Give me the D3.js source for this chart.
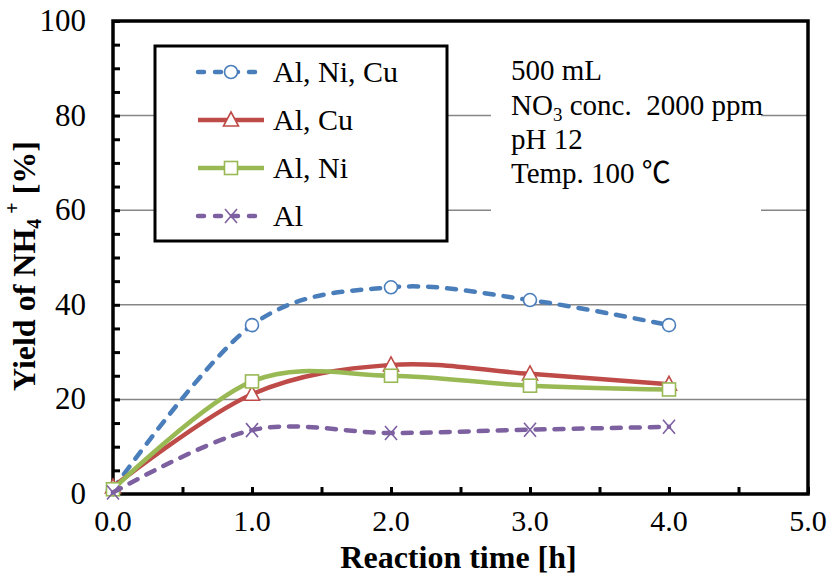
<!DOCTYPE html>
<html>
<head>
<meta charset="utf-8">
<script src="https://cdn.jsdelivr.net/npm/d3@7"></script>
<style>
  html, body { margin: 0; padding: 0; background: #fff; }
  svg { display: block; }
  svg text { font-family: "Liberation Serif", "Times New Roman", "Noto Sans CJK JP", serif; white-space: pre; }
</style>
</head>
<body>
<svg id="chart" width="827" height="574"></svg>
<script>
// Reaction time [h] for every sample
const times = [0, 1, 2, 3, 4];

// NH4+ yield [%] per catalyst combination
const alNiCu = [1.0, 35.7, 43.7, 41.0, 35.7];
const alCu   = [1.5, 21.1, 27.3, 25.4, 23.2];
const alNi   = [1.0, 23.8, 25.0, 22.9, 22.1];
const alOnly = [0.3, 13.5, 12.9, 13.6, 14.2];

const seriesNames = ["Al, Ni, Cu", "Al, Cu", "Al, Ni", "Al"];

const xTicks = [0, 1, 2, 3, 4, 5];
const yTicks = [0, 20, 40, 60, 80, 100];

const conditions = ["500 mL", "NO3 conc.  2000 ppm", "pH 12", "Temp. 100 ℃"];

const series = [
  { name: seriesNames[0], values: alNiCu, color: "#4A7EBB", dash: "9,10", marker: "circle" },
  { name: seriesNames[1], values: alCu,   color: "#BE4B48", dash: null,   marker: "triangle" },
  { name: seriesNames[2], values: alNi,   color: "#98B954", dash: null,   marker: "square" },
  { name: seriesNames[3], values: alOnly, color: "#7D60A0", dash: "9,10", marker: "cross" }
];

const svg = d3.select("#chart");
const plotLeft = 113, plotRight = 808, plotTop = 21, plotBottom = 494;

const x = d3.scaleLinear().domain([0, 5]).range([plotLeft, plotRight]);
const y = d3.scaleLinear().domain([0, 100]).range([plotBottom, plotTop]);

// horizontal gridlines
svg.append("g").selectAll("line")
  .data(yTicks.filter(d => d > 0 && d < 100))
  .join("line")
  .attr("x1", plotLeft).attr("x2", plotRight)
  .attr("y1", d => y(d)).attr("y2", d => y(d))
  .attr("stroke", "#868686").attr("stroke-width", 1.5);

// y axis: labels at every 20, ticks every 5 pointing into the plot
const yAxis = d3.axisRight(y).tickValues(d3.range(0, 101, 5)).tickSize(7).tickFormat("");
svg.append("g").attr("transform", `translate(${plotLeft},0)`).call(yAxis)
  .call(g => g.select(".domain").remove())
  .call(g => g.selectAll("line").attr("stroke", "#000").attr("stroke-width", 3));
svg.append("g").selectAll("text").data(yTicks).join("text")
  .attr("x", 86).attr("y", d => y(d) + 10)
  .attr("text-anchor", "end")
  .attr("font-size", 31)
  .text(d => d);

// x axis: ticks every 0.5 pointing up
const xAxis = d3.axisTop(x).tickValues(d3.range(0, 5.01, 0.5)).tickSize(7).tickFormat("");
svg.append("g").attr("transform", `translate(0,${plotBottom})`).call(xAxis)
  .call(g => g.select(".domain").remove())
  .call(g => g.selectAll("line").attr("stroke", "#000").attr("stroke-width", 3));
svg.append("g").selectAll("text").data(xTicks).join("text")
  .attr("x", d => x(d)).attr("y", 531)
  .attr("text-anchor", "middle")
  .attr("font-size", 30)
  .text(d => d3.format(".1f")(d));

// plot frame
svg.append("rect")
  .attr("x", plotLeft).attr("y", plotTop)
  .attr("width", plotRight - plotLeft).attr("height", plotBottom - plotTop)
  .attr("fill", "none").attr("stroke", "#000").attr("stroke-width", 3.5);

// axis titles
svg.append("text")
  .attr("x", (plotLeft + plotRight) / 2 - 2).attr("y", 568)
  .attr("text-anchor", "middle")
  .attr("font-size", 32).attr("font-weight", "bold")
  .text("Reaction time [h]");

const yTitle = svg.append("text")
  .attr("transform", "translate(35,266) rotate(-90)")
  .attr("text-anchor", "middle")
  .attr("font-size", 32).attr("font-weight", "bold");
yTitle.append("tspan").text("Yield of NH");
yTitle.append("tspan").attr("font-size", 20).attr("dy", 6).text("4");
yTitle.append("tspan").attr("font-size", 20).attr("dy", -22).text(" +");
yTitle.append("tspan").attr("dy", 16).text(" [%]");

// marker drawing shared by plot and legend
function drawMarker(g, type, color, cx, cy) {
  if (type === "circle") {
    g.append("circle").attr("cx", cx).attr("cy", cy).attr("r", 6.5)
      .attr("fill", "#fff").attr("stroke", color).attr("stroke-width", 1.6);
  } else if (type === "square") {
    g.append("rect").attr("x", cx - 6.5).attr("y", cy - 6.5).attr("width", 13).attr("height", 13)
      .attr("fill", "#fff").attr("stroke", color).attr("stroke-width", 1.6);
  } else if (type === "triangle") {
    g.append("path")
      .attr("d", `M${cx},${cy - 8}L${cx + 7.5},${cy + 6}L${cx - 7.5},${cy + 6}Z`)
      .attr("fill", "#fff").attr("stroke", color).attr("stroke-width", 1.6);
  } else if (type === "cross") {
    g.append("path")
      .attr("d", `M${cx - 6},${cy - 7}L${cx + 6},${cy + 7}M${cx + 6},${cy - 7}L${cx - 6},${cy + 7}`)
      .attr("fill", "none").attr("stroke", color).attr("stroke-width", 1.6);
  }
}

// smoothed series lines, each series drawn with its markers in order
const line = d3.line()
  .x((d, i) => x(times[i]))
  .y(d => y(d))
  .curve(d3.curveCatmullRom.alpha(0));

const plot = svg.append("g");
series.forEach(s => {
  const g = plot.append("g");
  g.append("path")
    .attr("d", line(s.values))
    .attr("fill", "none")
    .attr("stroke", s.color)
    .attr("stroke-width", 4.5)
    .attr("stroke-linecap", s.dash ? "round" : "butt")
    .attr("stroke-dasharray", s.dash);
  s.values.forEach((v, i) => drawMarker(g, s.marker, s.color, x(times[i]), y(v)));
});

// legend
const legend = svg.append("g");
legend.append("rect")
  .attr("x", 155).attr("y", 46).attr("width", 292).attr("height", 195)
  .attr("fill", "#fff").attr("stroke", "#000").attr("stroke-width", 3);
series.forEach((s, i) => {
  const cy = 72 + i * 48;
  legend.append("line")
    .attr("x1", 198).attr("x2", 264).attr("y1", cy).attr("y2", cy)
    .attr("stroke", s.color).attr("stroke-width", 4.5)
    .attr("stroke-linecap", s.dash ? "round" : "butt")
    .attr("stroke-dasharray", s.dash ? "6,11" : null);
  drawMarker(legend, s.marker, s.color, 231, cy);
  legend.append("text")
    .attr("x", 273).attr("y", cy + 10)
    .attr("font-size", 30)
    .text(s.name);
});

// experimental conditions
const cond = svg.append("g");
cond.append("rect")
  .attr("x", 491).attr("y", 50).attr("width", 270).attr("height", 172)
  .attr("fill", "#fff");
const condY = [80, 115, 149, 183];
conditions.forEach((c, i) => {
  const t = cond.append("text")
    .attr("x", 511).attr("y", condY[i])
    .attr("font-size", 29);
  if (c.startsWith("NO3")) {
    t.append("tspan").text("NO");
    t.append("tspan").attr("font-size", 19).attr("dy", 6).text("3");
    t.append("tspan").attr("dy", -6).text(c.slice(3));
  } else {
    t.text(c);
  }
});
</script>
</body>
</html>
